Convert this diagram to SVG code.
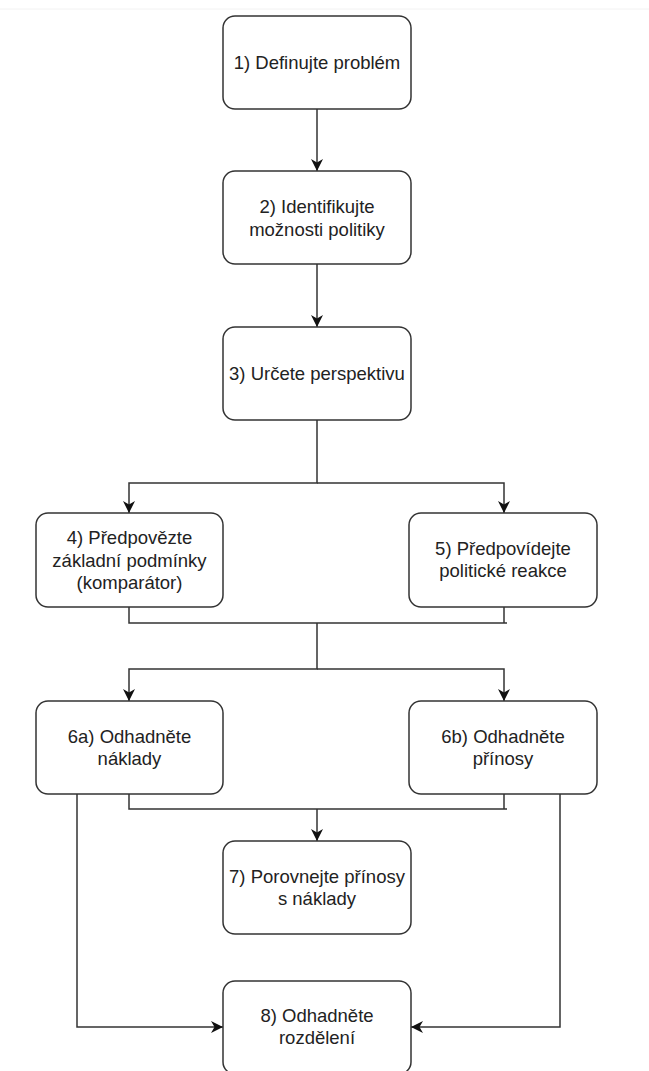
<svg xmlns="http://www.w3.org/2000/svg" width="649" height="1071" viewBox="0 0 649 1071">
  <style>
    .box { fill: #ffffff; stroke: #333333; stroke-width: 1.5; }
    .lbl { font-family: "Liberation Sans", Arial, sans-serif; font-size: 18.5px; fill: #222222; text-anchor: middle; }
    .edge { fill: none; stroke: #333333; stroke-width: 1.5; }
  </style>
  <defs>
    <marker id="arrow" markerUnits="userSpaceOnUse" markerWidth="13" markerHeight="13" refX="12" refY="6" orient="auto" viewBox="0 0 13 12">
      <path d="M0 0 L12 6 L0 12 L3.5 6 Z" fill="#111111" stroke="none"/>
    </marker>
  </defs>
  <rect x="0" y="0" width="649" height="1071" fill="#ffffff"/>
  <line x1="0" y1="9" x2="649" y2="9" stroke="#f2f2f2" stroke-width="1"/>

  <g id="connectors">
    <path class="edge" d="M317 109 V171" marker-end="url(#arrow)"/>
    <path class="edge" d="M317 264 V327" marker-end="url(#arrow)"/>
    <path class="edge" d="M317 420 V483 H129 V513" marker-end="url(#arrow)"/>
    <path class="edge" d="M317 483 H504 V513" marker-end="url(#arrow)"/>
    <path class="edge" d="M129 607 V623 H507"/>
    <path class="edge" d="M504 607 V623"/>
    <path class="edge" d="M317 623 V669 H129 V701" marker-end="url(#arrow)"/>
    <path class="edge" d="M317 669 H504 V701" marker-end="url(#arrow)"/>
    <path class="edge" d="M129 794 V809 H507"/>
    <path class="edge" d="M504 794 V809"/>
    <path class="edge" d="M317 809 V841" marker-end="url(#arrow)"/>
    <path class="edge" d="M77 794 V1027 H223" marker-end="url(#arrow)"/>
    <path class="edge" d="M560 794 V1027 H411" marker-end="url(#arrow)"/>
  </g>

  <g id="node1">
    <rect class="box" x="223" y="16" width="188" height="93" rx="12" ry="12"/>
    <text class="lbl" x="317" y="69">1) Definujte problém</text>
  </g>
  <g id="node2">
    <rect class="box" x="223" y="171" width="188" height="93" rx="12" ry="12"/>
    <text class="lbl" x="317" y="212.5">2) Identifikujte</text>
    <text class="lbl" x="317" y="235.5">možnosti politiky</text>
  </g>
  <g id="node3">
    <rect class="box" x="223" y="327" width="188" height="93" rx="12" ry="12"/>
    <text class="lbl" x="317" y="380">3) Určete perspektivu</text>
  </g>
  <g id="node4">
    <rect class="box" x="36" y="513" width="187" height="94" rx="12" ry="12"/>
    <text class="lbl" x="129.5" y="544">4) Předpovězte</text>
    <text class="lbl" x="129.5" y="566.5">základní podmínky</text>
    <text class="lbl" x="129.5" y="589">(komparátor)</text>
  </g>
  <g id="node5">
    <rect class="box" x="409" y="513" width="188" height="94" rx="12" ry="12"/>
    <text class="lbl" x="503" y="554.5">5) Předpovídejte</text>
    <text class="lbl" x="503" y="577">politické reakce</text>
  </g>
  <g id="node6a">
    <rect class="box" x="36" y="701" width="187" height="93" rx="12" ry="12"/>
    <text class="lbl" x="129.5" y="742.5">6a) Odhadněte</text>
    <text class="lbl" x="129.5" y="765">náklady</text>
  </g>
  <g id="node6b">
    <rect class="box" x="409" y="701" width="188" height="93" rx="12" ry="12"/>
    <text class="lbl" x="503" y="742.5">6b) Odhadněte</text>
    <text class="lbl" x="503" y="765">přínosy</text>
  </g>
  <g id="node7">
    <rect class="box" x="223" y="841" width="188" height="93" rx="12" ry="12"/>
    <text class="lbl" x="317" y="882.5">7) Porovnejte přínosy</text>
    <text class="lbl" x="317" y="905">s náklady</text>
  </g>
  <g id="node8">
    <rect class="box" x="223" y="981" width="188" height="93" rx="12" ry="12"/>
    <text class="lbl" x="317" y="1021.5">8) Odhadněte</text>
    <text class="lbl" x="317" y="1044">rozdělení</text>
  </g>
</svg>
